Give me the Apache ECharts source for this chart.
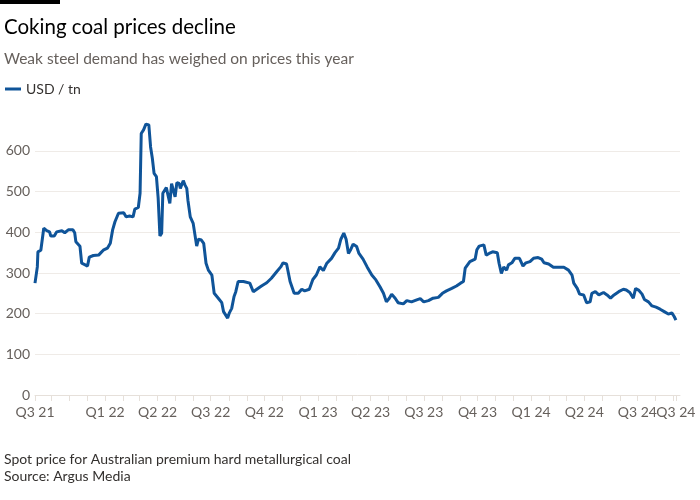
<!DOCTYPE html>
<html>
<head>
<meta charset="utf-8">
<script src="https://cdn.jsdelivr.net/npm/echarts@6/dist/echarts.min.js"></script>
<style>
html,body{margin:0;padding:0;background:#fff;}
#c{width:700px;height:500px;}
</style>
</head>
<body>
<div id="c"></div>
<script>
// ---- data ----
const dates = [
"2021-09-03","2021-09-07","2021-09-08","2021-09-13","2021-09-18","2021-09-23","2021-09-28","2021-09-30",
"2021-10-06","2021-10-10","2021-10-19","2021-10-24","2021-10-30","2021-11-07","2021-11-10","2021-11-12",
"2021-11-19","2021-11-22","2021-11-28","2021-12-02","2021-12-05","2021-12-12","2021-12-21","2021-12-25",
"2021-12-29","2022-01-05","2022-01-10","2022-01-14","2022-01-18","2022-01-24","2022-02-02","2022-02-06",
"2022-02-12","2022-02-18","2022-02-21","2022-02-27","2022-03-02","2022-03-04","2022-03-08","2022-03-12",
"2022-03-17","2022-03-20","2022-03-23","2022-03-26","2022-03-30","2022-04-02","2022-04-05","2022-04-08",
"2022-04-10","2022-04-16","2022-04-19","2022-04-22","2022-04-25","2022-04-28","2022-05-01","2022-05-04",
"2022-05-08","2022-05-10","2022-05-15","2022-05-18","2022-05-21","2022-05-23","2022-05-27","2022-06-01",
"2022-06-04","2022-06-07","2022-06-10","2022-06-15","2022-06-19","2022-06-23","2022-06-27","2022-07-03",
"2022-07-07","2022-07-14","2022-07-20","2022-07-23","2022-07-26","2022-07-30","2022-08-02","2022-08-06",
"2022-08-10","2022-08-13","2022-08-17","2022-08-26","2022-09-06","2022-09-12","2022-09-18","2022-09-26",
"2022-10-05","2022-10-13","2022-10-22","2022-10-29","2022-11-02","2022-11-08","2022-11-14","2022-11-21",
"2022-11-28","2022-12-04","2022-12-09","2022-12-17","2022-12-23","2022-12-29","2023-01-04","2023-01-10",
"2023-01-16","2023-01-24","2023-01-30","2023-02-05","2023-02-09","2023-02-14","2023-02-18","2023-02-22",
"2023-02-26","2023-03-02","2023-03-08","2023-03-12","2023-03-19","2023-03-26","2023-04-03","2023-04-10",
"2023-04-17","2023-04-23","2023-04-28","2023-05-03","2023-05-07","2023-05-13","2023-05-18","2023-05-27",
"2023-06-02","2023-06-10","2023-06-19","2023-06-25","2023-07-01","2023-07-09","2023-07-17","2023-07-26",
"2023-08-02","2023-08-09","2023-08-18","2023-08-26","2023-09-02","2023-09-07","2023-09-10","2023-09-18",
"2023-09-27","2023-09-30","2023-10-04","2023-10-12","2023-10-16","2023-10-21","2023-10-27","2023-11-04",
"2023-11-07","2023-11-11","2023-11-15","2023-11-20","2023-11-23","2023-11-29","2023-12-04","2023-12-12",
"2023-12-18","2023-12-23","2023-12-30","2024-01-05","2024-01-13","2024-01-19","2024-01-23","2024-01-31",
"2024-02-08","2024-02-17","2024-02-26","2024-03-05","2024-03-11","2024-03-14","2024-03-20","2024-03-24",
"2024-03-31","2024-04-05","2024-04-11","2024-04-14","2024-04-20","2024-04-26","2024-05-04","2024-05-10",
"2024-05-16","2024-05-22","2024-05-30","2024-06-07","2024-06-12","2024-06-18","2024-06-24","2024-06-28",
"2024-07-03","2024-07-09","2024-07-13","2024-07-20","2024-07-26","2024-08-02","2024-08-09","2024-08-16",
"2024-08-23","2024-08-29","2024-09-02","2024-09-05"
];
const prices = [
275,315,352,356,410,404,401,391,
391,401,404,399,406,406,399,377,
366,324,320,317,339,343,344,350,
356,361,373,406,426,447,448,438,
440,438,457,461,496,643,652,666,
664,610,582,545,537,484,391,398,
496,510,514,471,520,516,487,522,
520,508,527,516,508,479,438,422,
418,366,383,381,373,324,307,295,
250,238,227,205,201,189,202,213,
242,254,279,279,275,254,260,268,
276,287,303,315,325,322,279,250,
250,260,256,260,284,295,315,306,
324,336,350,361,383,398,383,348,
358,371,365,348,334,315,295,283,
266,250,229,238,248,238,227,224,
232,229,234,237,229,232,238,240,
250,256,262,268,275,279,312,328,
334,357,366,369,344,348,352,350,
324,299,315,307,320,325,336,336,
317,325,328,336,338,334,325,322,
314,314,314,307,295,275,262,248,
246,227,229,250,254,246,252,246,
238,246,254,260,258,252,238,262,
258,248,235,229,219,216,211,205,
199,202,193,184
];
const labelDates = ["2021-09-03","2022-01-01","2022-04-01","2022-07-01","2022-10-01","2023-01-01","2023-04-01",
"2023-07-01","2023-10-01","2024-01-01","2024-04-01","2024-07-01","2024-09-05"];
const tickDates = ["2021-09-03","2021-10-01","2021-11-01","2021-12-01","2022-01-01","2022-02-01","2022-03-01","2022-04-01",
"2022-05-01","2022-06-01","2022-07-01","2022-08-01","2022-09-01","2022-10-01","2022-11-01","2022-12-01",
"2023-01-01","2023-02-01","2023-03-01","2023-04-01","2023-05-01","2023-06-01","2023-07-01","2023-08-01",
"2023-09-01","2023-10-01","2023-11-01","2023-12-01","2024-01-01","2024-02-01","2024-03-01","2024-04-01",
"2024-05-01","2024-06-01","2024-07-01","2024-08-01","2024-09-01","2024-09-05"];
const yTicks = [0,100,200,300,400,500,600];
const xMin = "2021-09-03", xMax = "2024-09-12";

// ---- chart ----
const ts = s => { const [y,m,d] = s.split('-').map(Number); return Date.UTC(y, m-1, d); };
const FONT = 'Lato, "Noto Sans", sans-serif';
const chart = echarts.init(document.getElementById('c'), null, {renderer:'canvas'});
const labelSet = new Set(labelDates.map(ts));
const quarterLabel = v => {
  if (!labelSet.has(v)) return ' ';
  const d = new Date(v);
  return 'Q' + (Math.floor(d.getUTCMonth()/3)+1) + ' ' + String(d.getUTCFullYear()).slice(2);
};

chart.setOption({
  animation: false,
  backgroundColor: '#ffffff',
  textStyle: {fontFamily: FONT},
  title: [
    {text: 'Coking coal prices decline', left: -1, top: 12,
     textStyle: {fontSize: 20.5, fontWeight: 'normal', color: '#000000', fontFamily: FONT}},
    {text: 'Weak steel demand has weighed on prices this year', left: -1, top: 46,
     textStyle: {fontSize: 15.5, fontWeight: 'normal', color: '#66605c', fontFamily: FONT}},
    {text: 'Spot price for Australian premium hard metallurgical coal\nSource: Argus Media', left: -1, top: 446,
     textStyle: {fontSize: 14, lineHeight: 17, fontWeight: 'normal', color: '#33302e', fontFamily: FONT}}
  ],
  graphic: [{type:'rect', left: 0, top: 0, shape:{width: 60, height: 4}, style:{fill:'#000'}}],
  legend: {left: 0, top: 77, icon: 'rect', itemWidth: 16, itemHeight: 3, itemGap: 10,
    textStyle: {fontSize: 14, color: '#33302e', fontFamily: FONT}, data: ['USD / tn']},
  grid: {left: 35, right: 20, top: 110.3, bottom: 105, containLabel: false},
  xAxis: {
    type: 'value', min: ts(xMin), max: ts(xMax),
    axisLine: {show: true, lineStyle: {color: '#e6e0da', width: 1}},
    axisTick: {show: true, length: 6, lineStyle: {color: '#e6e0da'}, customValues: tickDates.map(ts)},
    axisLabel: {customValues: labelDates.map(ts).concat([ts(xMax)]), formatter: quarterLabel, fontSize: 14, color: '#66605c', margin: 10,
      fontFamily: FONT, hideOverlap: false},
    splitLine: {show: false}
  },
  yAxis: {
    type: 'value', min: 0, max: 700, interval: 100,
    axisLine: {show: false}, axisTick: {show: false},
    axisLabel: {fontSize: 14, color: '#66605c', margin: 5, showMaxLabel: false, fontFamily: FONT},
    splitLine: {show: true, lineStyle: {color: ['#efebe7','#efebe7','#efebe7','#efebe7','#efebe7','#efebe7','#efebe7','rgba(0,0,0,0)'], width: 1}}
  },
  series: [{
    name: 'USD / tn', type: 'line', showSymbol: false, symbol: 'none',
    data: dates.map((d,i) => [ts(d), prices[i]]),
    lineStyle: {color: '#0f5499', width: 3}, itemStyle: {color: '#0f5499'}
  }]
});
</script>
</body>
</html>
